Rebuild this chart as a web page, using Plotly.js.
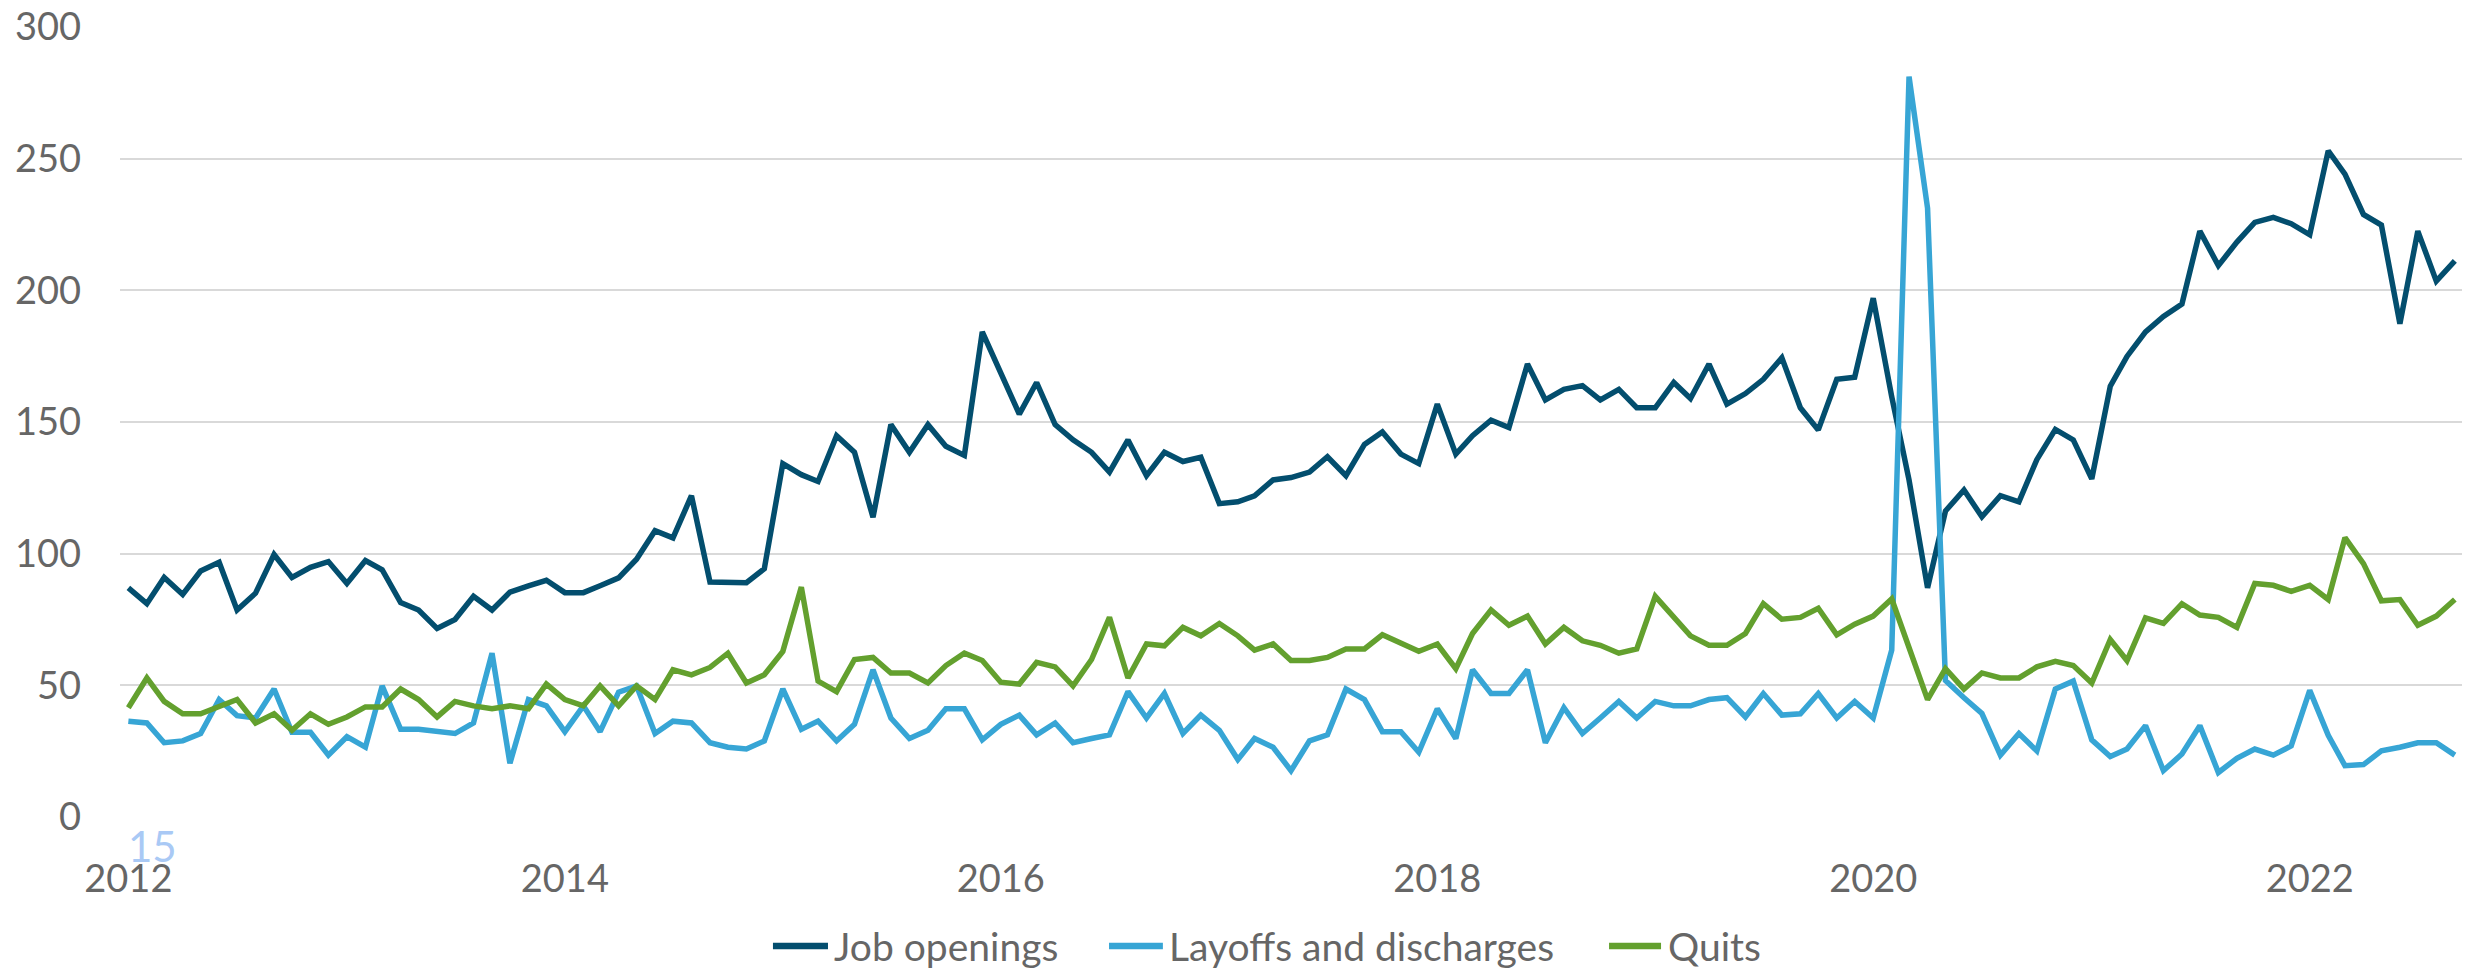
<!DOCTYPE html>
<html>
<head>
<meta charset="utf-8">
<script src="https://cdn.plot.ly/plotly-3.0.1.min.js"></script>
<style>
  html, body { margin: 0; padding: 0; background: #ffffff; }
  #chart { width: 2474px; height: 971px; }
</style>
</head>
<body>
<div id="chart"></div>
<script>
// Monthly series, January 2012 to September 2022
const startYear = 2012;
const startMonth = 1;

const jobOpenings = [
  87, 81, 91, 84.5, 93.4, 96.7, 78.6, 85, 99.7, 91, 94.8, 97,
  88.7, 97.4, 93.9, 81.4, 78.6, 71.6, 75, 83.8, 78.6, 85.4, 87.8, 89.9,
  85.2, 85.2, 87.8, 90.8, 97.9, 108.7, 106, 122, 89.2, 89, 89, 94.3,
  134.2, 130, 127.4, 144.8, 138.5, 113.8, 149, 138.5, 149, 140.8, 137.3, 184.2,
  169, 153, 165, 149, 143.2, 138.5, 131, 143.2, 129.6, 138.5, 135, 136.6,
  119, 119.7, 122, 128, 128.9, 131, 136.8, 129.6, 141.5, 146.2, 137.8, 134.2,
  156.8, 137.8, 144.8, 150.7, 147.9, 172, 158.4, 162.4, 163.8, 158.4, 162.4, 155.4,
  155.4, 165, 158.9, 172, 156.8, 160.8, 166.2, 174.4, 155.4, 147, 166.2, 167,
  197, 159.6, 128, 87, 116.2, 124.2, 114, 122, 119.7, 135.7, 147.2, 143.2,
  128.4, 163.6, 174.9, 184.2, 190.1, 194.8, 222.5, 209.4, 218.3, 225.8, 227.7, 225.3,
  221.1, 253, 244.1, 228.8, 224.8, 187.3, 222.5, 203.5, 211.2
];

const layoffs = [
  36.4, 35.7, 28.2, 28.9, 31.7, 44.6, 38.5, 37.6, 48.6, 32.2, 32.2, 23.5,
  30.5, 26.5, 49.8, 33.3, 33.3, 32.4, 31.7, 35.7, 62.2, 20.4, 44.6, 42.2,
  32.4, 42.2, 32.4, 47.4, 49.8, 31.7, 36.4, 35.7, 28.2, 26.5, 25.8, 28.9,
  48.6, 33.3, 36.4, 28.9, 35.2, 55.9, 37.6, 29.8, 32.9, 41.1, 41.1, 29.3,
  35.2, 38.7, 31.2, 35.7, 28.2, 29.8, 31.2, 47.6, 37.6, 46.9, 31.7, 38.7,
  32.9, 21.8, 29.8, 26.5, 17.6, 28.9, 31.2, 48.6, 44.6, 32.4, 32.4, 24.6,
  41.1, 29.8, 55.9, 46.9, 46.9, 55.9, 28.2, 41.5, 31.7, 37.6, 43.9, 37.6,
  43.9, 42.2, 42.2, 44.6, 45.3, 38, 46.9, 38.7, 39.2, 46.9, 37.6, 43.9,
  37.6, 63.4, 281.2, 231.2, 51.8, 45.3, 39.3, 23.5, 31.7, 25.1, 48.6, 51.6,
  29.3, 23, 25.8, 34.7, 17.6, 23.9, 34.7, 16.9, 22.3, 25.8, 23.5, 27,
  48.1, 31, 19.5, 19.9, 25.1, 26.5, 28.2, 28.2, 23.5
];

const quits = [
  41.5, 52.8, 43.9, 39.2, 39.2, 42.2, 44.6, 35.7, 39.2, 32.9, 39.2, 35.2,
  38, 41.8, 41.8, 48.6, 44.6, 38, 43.9, 42.2, 41.1, 42.2, 41.1, 50.5,
  44.6, 42.2, 49.8, 42.2, 49.8, 44.6, 55.9, 54, 56.8, 62.2, 50.9, 54,
  62.9, 87.3, 51.6, 47.6, 59.8, 60.6, 54.7, 54.7, 50.9, 57.5, 62.2, 59.4,
  51.2, 50.5, 58.7, 57, 49.8, 59.8, 75.8, 52.8, 65.7, 65, 72, 68.8,
  73.5, 68.8, 63.4, 65.7, 59.4, 59.4, 60.6, 63.8, 63.8, 69.2, 66.2, 62.9,
  65.7, 56.3, 69.7, 78.6, 72.8, 76.3, 65.7, 72, 66.9, 65.2, 62.2, 63.8,
  83.8, 76.3, 68.8, 65.2, 65.2, 69.7, 81, 75.1, 75.8, 79.3, 69.2, 73.2,
  76.3, 82.8, 64, 44.6, 56.3, 48.6, 54.7, 52.8, 52.8, 57, 59.1, 57.5,
  50.9, 67.4, 59.4, 75.6, 73.5, 81, 76.7, 75.8, 72, 88.7, 88, 85.7,
  88, 82.6, 106.1, 96.2, 82.1, 82.6, 72.8, 76.3, 82.6
];

const seriesNames = ['Job openings', 'Layoffs and discharges', 'Quits'];
const yTickValues = [0, 50, 100, 150, 200, 250, 300];
const strayLabel = '15';

// Build month dates from the start month
const months = jobOpenings.map((_, i) => {
  const total = (startYear * 12 + (startMonth - 1)) + i;
  const y = Math.floor(total / 12);
  const m = (total % 12) + 1;
  return y + '-' + String(m).padStart(2, '0') + '-01';
});

const FONT = 'Lato, "Open Sans", sans-serif';
const TEXT = '#666666';
const colors = ['#034e6e', '#37a5d5', '#63a02e'];

const traces = [jobOpenings, layoffs, quits].map((vals, k) => ({
  type: 'scatter',
  mode: 'lines',
  name: seriesNames[k],
  x: months,
  y: vals,
  line: { color: colors[k], width: 5.5 },
  hoverinfo: 'x+y+name',
  showlegend: false
}));

// Legend drawn below the plot (line key + label per series)
const legendY = -0.1633;
const legendKeys = [
  { x0: 0.2788, x1: 0.3023, tx: 0.3040 },
  { x0: 0.4223, x1: 0.4453, tx: 0.4470 },
  { x0: 0.6358, x1: 0.6580, tx: 0.6600 }
];
const legendShapes = legendKeys.map((p, k) => ({
  type: 'line', xref: 'paper', yref: 'paper',
  x0: p.x0, x1: p.x1, y0: legendY, y1: legendY,
  line: { color: colors[k], width: 6.5 }
}));
const legendLabels = legendKeys.map((p, k) => ({
  text: seriesNames[k],
  xref: 'paper', yref: 'paper',
  x: p.tx, y: legendY,
  xanchor: 'left', yanchor: 'middle',
  showarrow: false,
  font: { family: FONT, color: TEXT, size: 39 }
}));

const layout = {
  width: 2474,
  height: 971,
  margin: { l: 120, r: 12, t: 27, b: 154, pad: 0, autoexpand: false },
  paper_bgcolor: '#ffffff',
  plot_bgcolor: '#ffffff',
  font: { family: FONT, color: TEXT, size: 37 },
  showlegend: false,
  xaxis: {
    type: 'date',
    range: ['2011-12-18', '2022-09-13'],
    tick0: '2012-01-01',
    dtick: 'M24',
    tickformat: '%Y',
    showgrid: false,
    zeroline: false,
    showline: false,
    ticks: '',
    ticklabelstandoff: 36,
    tickfont: { family: FONT, color: TEXT, size: 38 }
  },
  yaxis: {
    range: [0, 300],
    tickvals: yTickValues,
    showgrid: true,
    gridcolor: '#d9d9d9',
    gridwidth: 2,
    zeroline: false,
    showline: false,
    ticks: '',
    ticklabelstandoff: 38,
    tickfont: { family: FONT, color: TEXT, size: 38 }
  },
  shapes: legendShapes,
  annotations: [{
    text: strayLabel,
    xref: 'paper', yref: 'paper',
    x: 0.0137, y: -0.0367,
    xanchor: 'center', yanchor: 'middle',
    showarrow: false,
    font: { family: FONT, color: '#a9c9f5', size: 42 }
  }].concat(legendLabels)
};

Plotly.newPlot('chart', traces, layout, { displayModeBar: false, staticPlot: true });
</script>
</body>
</html>
